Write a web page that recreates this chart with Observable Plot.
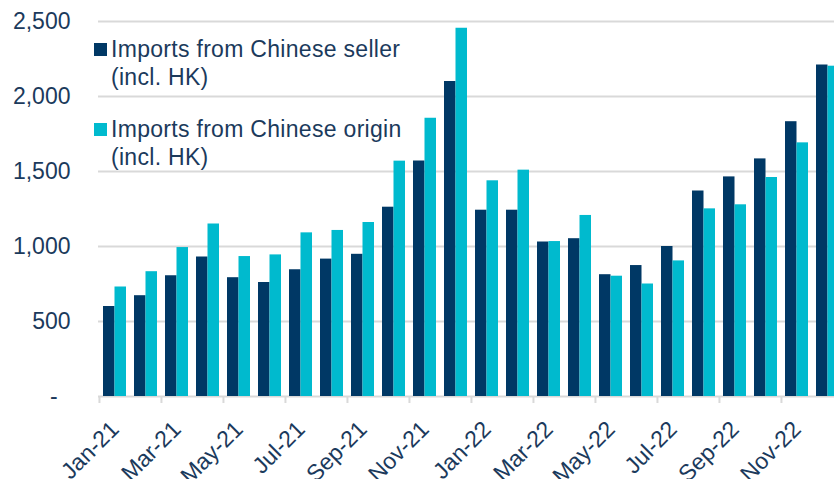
<!DOCTYPE html>
<html><head><meta charset="utf-8">
<script src="https://cdn.jsdelivr.net/npm/d3@7"></script>
<script src="https://cdn.jsdelivr.net/npm/@observablehq/plot@0.6"></script>
<style>
html,body{margin:0;padding:0;background:#fff;overflow:hidden;}
#wrap{position:relative;width:834px;height:479px;overflow:hidden;}
.leg{position:absolute;font-family:"Liberation Sans",Arial,sans-serif;font-size:23px;line-height:28px;color:#1B3A5C;white-space:pre;letter-spacing:0.3px;}
.sw{position:absolute;width:12.5px;height:12.5px;}
</style></head><body><div id="wrap"></div>
<script>
const months = ["Jan-21","Feb-21","Mar-21","Apr-21","May-21","Jun-21","Jul-21","Aug-21","Sep-21","Oct-21","Nov-21","Dec-21",
                "Jan-22","Feb-22","Mar-22","Apr-22","May-22","Jun-22","Jul-22","Aug-22","Sep-22","Oct-22","Nov-22","Dec-22"];
const sellerValues = [600,672,805,930,792,760,845,916,948,1262,1570,2100,1242,1242,1030,1052,812,873,1000,1370,1464,1584,1832,2210];
const originValues = [730,832,993,1150,933,944,1091,1107,1160,1569,1855,2455,1438,1509,1033,1207,802,750,904,1251,1278,1460,1691,2202];
const seriesNames = ["Imports from Chinese seller\n(incl. HK)", "Imports from Chinese origin\n(incl. HK)"];
const seriesColors = ["#003865", "#00BACE"];
const yTicks = [0, 500, 1000, 1500, 2000, 2500];
const tickMonths = months.filter((d, i) => i % 2 === 0);

const textColor = "#1B3A5C";
const seller = months.map((m, i) => ({month: m, value: sellerValues[i]}));
const origin = months.map((m, i) => ({month: m, value: originValues[i]}));
const fmt = d3.format(",");

const chart = Plot.plot({
  width: 834, height: 479,
  marginTop: 21, marginBottom: 83, marginLeft: 98, marginRight: 0,
  style: {color: textColor, fontFamily: "'Liberation Sans', Arial, sans-serif", fontSize: "23px", background: "white", overflow: "hidden"},
  x: {domain: months, range: [98, 844.2], paddingInner: 0.257, paddingOuter: 0.1285, axis: null},
  y: {domain: [0, 2500], axis: null},
  marks: [
    Plot.ruleY(yTicks, {stroke: "#D9D9D9", strokeWidth: 2}),
    Plot.axisX({ticks: tickMonths, tickSize: 7, tickFormat: () => "", label: null, stroke: "#D9D9D9", strokeWidth: 2, dx: -15.545}),
    Plot.barY(seller, {x: "month", y: "value", fill: seriesColors[0], insetRight: 11.5}),
    Plot.barY(origin, {x: "month", y: "value", fill: seriesColors[1], insetLeft: 11.5}),
    Plot.axisY({ticks: yTicks, tickSize: 0, tickPadding: 28, fontSize: 23, label: null,
      tickFormat: d => d === 0 ? "-\u00a0\u00a0" : fmt(d)}),
    Plot.text(tickMonths, {x: d => d, frameAnchor: "bottom", text: d => d, rotate: -45,
      textAnchor: "end", lineAnchor: "middle", dx: 0, dy: 29, fontSize: 23, fill: textColor})
  ]
});
const wrap = document.getElementById("wrap");
wrap.appendChild(chart);

const legendTops = [35, 115];
seriesNames.forEach((name, i) => {
  const sw = document.createElement("div");
  sw.className = "sw";
  sw.style.left = "94px";
  sw.style.top = (legendTops[i] + 8.3) + "px";
  sw.style.background = seriesColors[i];
  wrap.appendChild(sw);
  const t = document.createElement("div");
  t.className = "leg";
  t.style.left = "111px";
  t.style.top = legendTops[i] + "px";
  t.textContent = name;
  wrap.appendChild(t);
});
</script>
</body></html>
